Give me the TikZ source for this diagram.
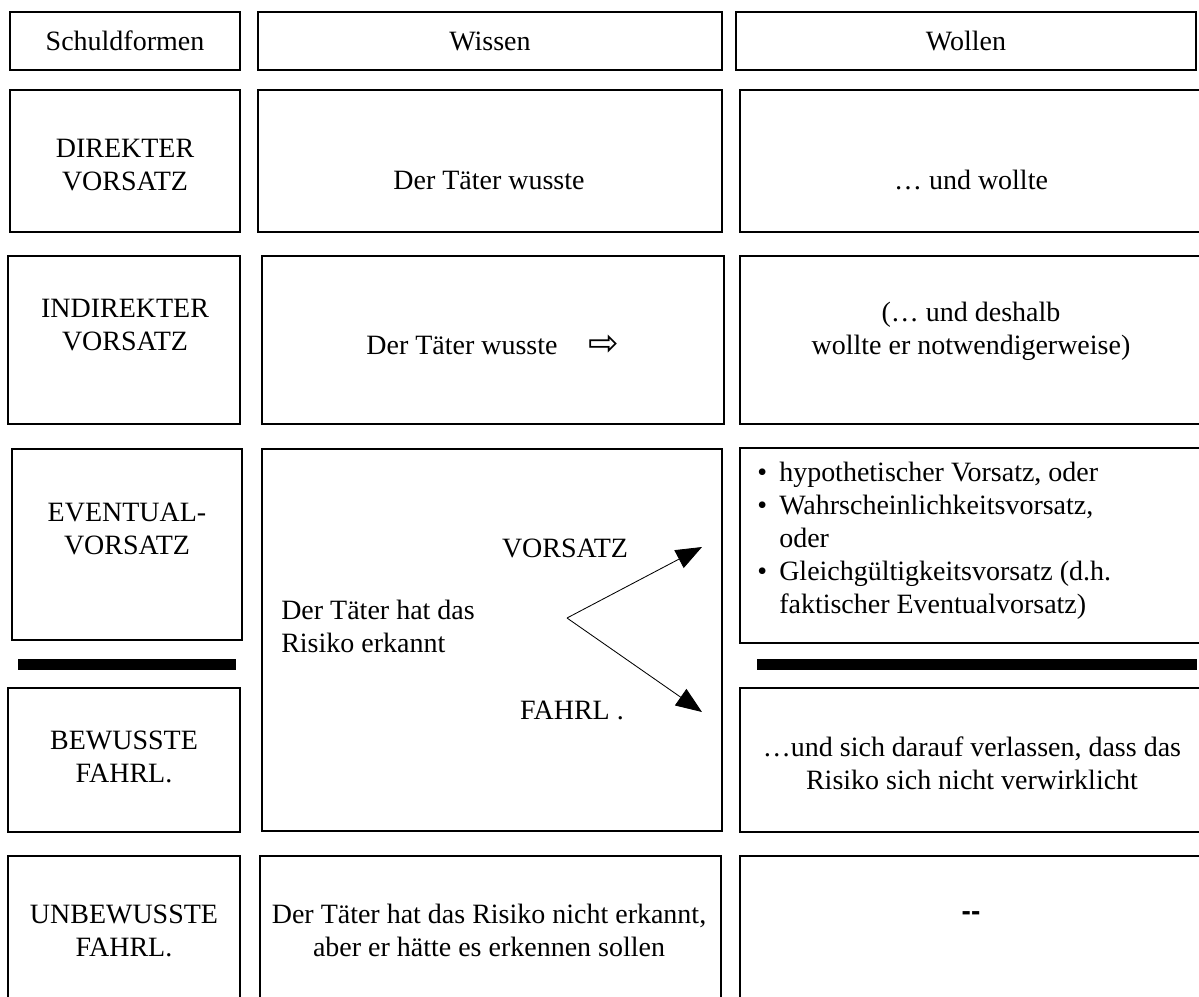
\documentclass[tikz,border=0pt]{standalone}
\usepackage{fontspec}
\setmainfont{Liberation Serif}
\setsansfont{Liberation Sans}
\newfontfamily\pfeilfont{DejaVu Sans}
\usetikzlibrary{arrows.meta, positioning}

\begin{document}
\begin{tikzpicture}[x=0.025cm, y=-0.025cm, font=\fontsize{19.9}{23.5}\selectfont,
    cell/.style = {draw, line width=1pt, inner sep=0pt},
    schmal/.style = {cell, minimum width=5.8cm},
    breit/.style = {cell, minimum width=11.55cm},
    txt/.style = {align=center, inner sep=0pt},
    balken/.style = {fill=black, inner sep=0pt, minimum height=0.275cm},
    ->, >={Triangle[length=0.65cm, width=0.5cm]}, node distance=0.75cm]
        \useasboundingbox (0,0) rectangle (1199,996);
        % Kopfzeile
        \node[schmal, minimum width=5.75cm, minimum height=1.45cm] (kopfA) at (125,41) {Schuldformen};
        \node[breit, minimum width=11.6cm, minimum height=1.45cm] (kopfB) at (490,41) {Wissen};
        \node[breit, minimum width=11.5cm, minimum height=1.45cm] (kopfC) at (966,41) {Wollen};
        % direkter Vorsatz
        \node[schmal, minimum width=5.75cm, minimum height=3.55cm] (dirA) at (125,161) {};
        \node[breit, minimum width=11.6cm, minimum height=3.55cm] (dirB) at (490,161) {};
        \node[breit, minimum height=3.55cm] (dirC) at (971,161) {};
        \node[txt] (dirA-t) at (125,165) {DIREKTER\\VORSATZ};
        \node[txt] (dirB-t) at (489,180) {Der Täter wusste};
        \node[txt] (dirC-t) at (971,180) {… und wollte};
        % indirekter Vorsatz
        \node[schmal, minimum height=4.2cm] (indA) at (124,340) {};
        \node[breit, minimum height=4.2cm] (indB) at (493,340) {};
        \node[breit, minimum height=4.2cm] (indC) at (971,340) {};
        \node[txt] (indA-t) at (125,325) {INDIREKTER\\VORSATZ};
        \node[txt] (indB-t) at (462,345) {Der Täter wusste};
        \node[txt, right=of indB-t, font=\pfeilfont\fontsize{26}{26}\selectfont] (pfeil) {⇨};
        \node[txt] (indC-t) at (971,331) {(… und deshalb\\wollte er notwendigerweise)};
        % Eventualvorsatz / bewusste Fahrlaessigkeit
        \node[schmal, minimum width=5.75cm, minimum height=4.775cm] (evA) at (127,544.5) {};
        \node[balken, minimum width=5.45cm] (balkenA) at (127,664.5) {};
        \node[schmal, minimum height=3.6cm] (bewA) at (124,760) {};
        \node[breit, minimum width=11.5cm, minimum height=9.55cm] (mitte) at (492,640) {};
        \node[breit, minimum height=4.875cm] (evC) at (971,545.5) {};
        \node[balken, minimum width=11cm] (balkenC) at (977,664.5) {};
        \node[breit, minimum height=3.6cm] (bewC) at (971,760) {};
        \node[txt] (evA-t) at (127,529) {EVENTUAL-\\VORSATZ};
        \node[txt] (bewA-t) at (124,757) {BEWUSSTE\\FAHRL.};
        \node[txt, align=left, anchor=west] (mitte-t) at (281,626) {Der Täter hat das\\Risiko erkannt};
        \node[txt] (vors) at (565,548) {VORSATZ};
        \node[txt] (fahrl) at (572,710) {FAHRL .};
        \coordinate (gabel) at (567,618);
        \coordinate (zielV) at (702,547);
        \coordinate (zielF) at (702,712);
        \draw[line width=0.6pt] (gabel) -- (zielV);
        \draw[line width=0.6pt] (gabel) -- (zielF);
        \node[txt, align=left, anchor=north west] (evC-t) at (757,462) {%
            \makebox[0.55cm][l]{\textbullet}hypothetischer Vorsatz, oder\\
            \makebox[0.55cm][l]{\textbullet}Wahrscheinlichkeitsvorsatz,\\
            \hspace*{0.55cm}oder\\
            \makebox[0.55cm][l]{\textbullet}Gleichgültigkeitsvorsatz (d.h.\\
            \hspace*{0.55cm}faktischer Eventualvorsatz)};
        \node[txt] (bewC-t) at (972,763) {…und sich darauf verlassen, dass das\\Risiko sich nicht verwirklicht};
        % unbewusste Fahrlaessigkeit
        \node[schmal, minimum height=3.85cm] (unbA) at (124,933) {};
        \node[breit, minimum width=11.525cm, minimum height=3.85cm] (unbB) at (490.5,933) {};
        \node[breit, minimum height=3.85cm] (unbC) at (971,933) {};
        \node[txt] (unbA-t) at (124,931) {UNBEWUSSTE\\FAHRL.};
        \node[txt] (unbB-t) at (489,930) {Der Täter hat das Risiko nicht erkannt,\\aber er hätte es erkennen sollen};
        \node[txt, font=\sffamily\bfseries\fontsize{19.9}{23.5}\selectfont] (unbC-t) at (971,916) {-{}-};
\end{tikzpicture}
\end{document}
